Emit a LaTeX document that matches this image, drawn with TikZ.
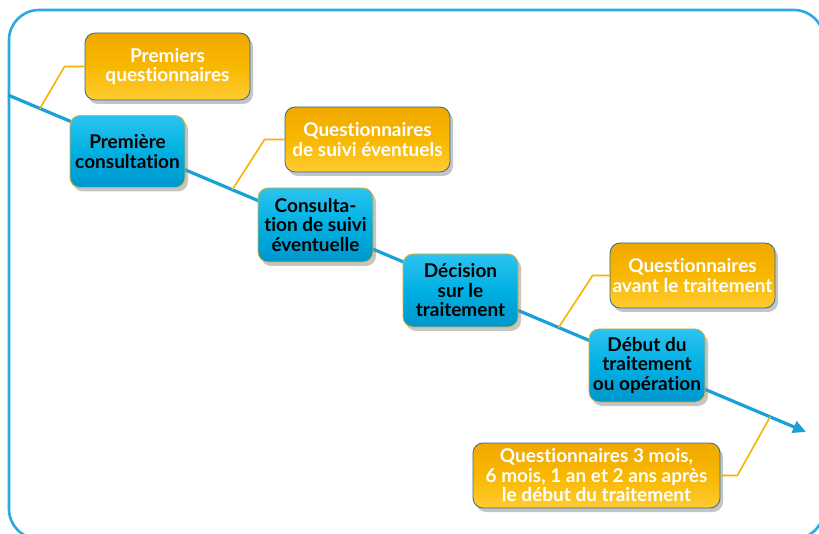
\documentclass[tikz,border=0pt]{standalone}
\usepackage{fontspec}
\setmainfont{Lato}[Ligatures=NoCommon]
\usetikzlibrary{shadows,calc,arrows.meta}
\definecolor{frameblue}{HTML}{29ABE2}
\definecolor{lineblue}{HTML}{1AA0D8}
\definecolor{boxblueT}{HTML}{2CC3EF}
\definecolor{boxblueM}{HTML}{00B0E3}
\definecolor{boxblueB}{HTML}{0096CC}
\definecolor{boxyelT}{HTML}{F0A800}
\definecolor{boxyelM}{HTML}{F8B800}
\definecolor{boxyelB}{HTML}{FFCB33}
\definecolor{conyel}{HTML}{F5B400}
\definecolor{yelborder}{HTML}{2A6E8F}
\definecolor{bluborder}{HTML}{E0B030}
\tikzset{
  stepbox/.style={rounded corners=10pt, draw=bluborder, line width=0.8pt,
    top color=boxblueT, bottom color=boxblueB, middle color=boxblueM,
    drop shadow={shadow xshift=3pt, shadow yshift=-4pt, opacity=0.45},
    align=center, text=black, inner sep=1pt,
    font=\bfseries\fontsize{19}{19.5}\selectfont},
  qbox/.style={rounded corners=10pt, draw=yelborder, line width=0.8pt,
    top color=boxyelT, bottom color=boxyelB, middle color=boxyelM,
    drop shadow={shadow xshift=3pt, shadow yshift=-4pt, opacity=0.45},
    align=center, text=white, inner sep=1pt,
    font=\bfseries\fontsize{19}{19.5}\selectfont},
  timeline/.style={draw=lineblue, line width=3.2pt, -{Triangle[length=13pt,width=12pt]}},
  conn/.style={draw=conyel, line width=1.6pt},
  frame/.style={draw=frameblue, line width=2.6pt, rounded corners=30pt}
}
\begin{document}
\begin{tikzpicture}[x=1pt,y=-1pt]
\useasboundingbox (0,0) rectangle (819,534);
\clip (0,0) rectangle (819,534);
\fill[white] (0,0) rectangle (819,534);
\draw[frame] (9,10) rectangle (824,539);
% timeline
\coordinate (ts) at (8,95);
\coordinate (te) at (806,432);
\draw[timeline] (ts) -- (te);
\coordinate (p1) at ($(ts)!0.040!(te)$);
\coordinate (p2) at ($(ts)!0.281!(te)$);
\coordinate (p3) at ($(ts)!0.690!(te)$);
\coordinate (p4) at ($(ts)!0.955!(te)$);
% question boxes
\node[qbox, minimum width=165pt, minimum height=67pt] (y1) at (167.5,66.5) {Premiers\\questionnaires};
\node[qbox, minimum width=165pt, minimum height=65pt] (y2) at (367.5,139.5) {Questionnaires\\de suivi éventuels};
\node[qbox, minimum width=165pt, minimum height=65pt] (y3) at (692.5,275.5) {Questionnaires\\avant le traitement};
\node[qbox, minimum width=247pt, minimum height=65pt] (y4) at (596.5,475.5) {Questionnaires 3 mois,\\6 mois, 1 an et 2 ans après\\le début du traitement};
% connectors
\coordinate (b1) at ($(y1.west)+(-20,0)$);
\coordinate (b2) at ($(y2.west)+(-20,0)$);
\coordinate (b3) at ($(y3.west)+(-17,0)$);
\coordinate (b4) at ($(y4.east)+(17,0)$);
\draw[conn] (p1) -- (b1) -- (y1.west);
\draw[conn] (p2) -- (b2) -- (y2.west);
\draw[conn] (p3) -- (b3) -- (y3.west);
\draw[conn] (p4) -- (b4) -- (y4.east);
% step boxes
\node[stepbox, minimum width=115pt, minimum height=72pt] (s1) at (127.5,151.5) {Première\\consultation};
\node[stepbox, minimum width=115pt, minimum height=74pt] (s2) at (315.5,225) {Consulta-\\tion de suivi\\éventuelle};
\node[stepbox, minimum width=115pt, minimum height=73pt] (s3) at (460.5,290.5) {Décision\\sur le\\traitement};
\node[stepbox, minimum width=116pt, minimum height=73pt] (s4) at (647,365.5) {Début du\\traitement\\ou opération};
\end{tikzpicture}
\end{document}
